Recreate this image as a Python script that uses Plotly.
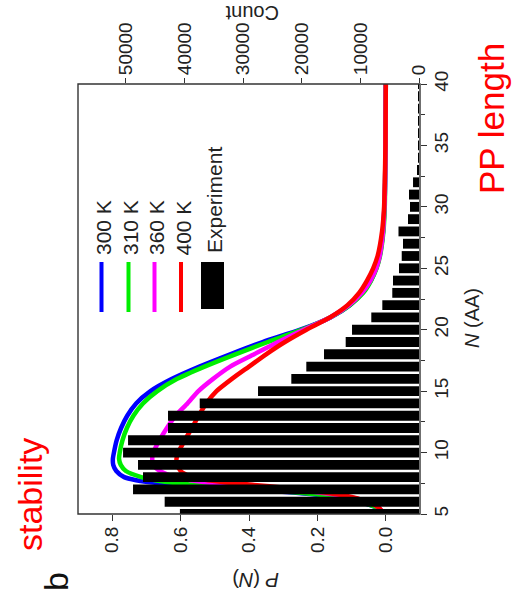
import plotly.graph_objects as go

# Experimental length histogram (counts per polyproline length N)
bar_n = list(range(5, 41))
bar_count = [40800, 43400, 48800, 47100, 47950, 50500, 49650, 42830, 42830, 37420,
             27470, 21790, 19230, 16210, 12510, 11430, 8140, 6260, 4560, 4440,
             3410, 2950, 2730, 3500, 1880, 1540, 1710, 1020, 340, 170,
             120, 80, 60, 40, 30, 20]

# Model length distributions P(N) at four temperatures
curve_n = [5, 5.5, 6, 6.5, 6.75, 7, 7.25, 7.5, 7.75, 8, 8.5, 9, 9.5, 10, 11, 12, 13,
           14, 15, 16, 17, 18, 19, 20, 21, 22, 23, 24, 25, 26, 28, 30, 32, 35, 40]
p_300 = [0.005, 0.025, 0.08, 0.18, 0.27, 0.40, 0.54, 0.66, 0.73, 0.765, 0.788, 0.797,
         0.798, 0.795, 0.787, 0.774, 0.756, 0.73, 0.688, 0.625, 0.545, 0.455, 0.36,
         0.25, 0.162, 0.105, 0.068, 0.044, 0.028, 0.018, 0.008, 0.004, 0.002, 0.001, 0.0]
p_310 = [0.005, 0.025, 0.075, 0.17, 0.26, 0.37, 0.50, 0.61, 0.675, 0.715, 0.76, 0.775,
         0.78, 0.778, 0.77, 0.757, 0.738, 0.71, 0.668, 0.61, 0.53, 0.44, 0.345,
         0.245, 0.163, 0.105, 0.066, 0.043, 0.027, 0.017, 0.007, 0.003, 0.002, 0.001, 0.0]
p_360 = [0.005, 0.02, 0.055, 0.13, 0.195, 0.28, 0.39, 0.50, 0.57, 0.615, 0.66, 0.68,
         0.683, 0.68, 0.662, 0.64, 0.615, 0.58, 0.548, 0.505, 0.455, 0.385, 0.315,
         0.24, 0.163, 0.108, 0.07, 0.045, 0.028, 0.018, 0.008, 0.004, 0.002, 0.001, 0.0]
p_400 = [0.005, 0.02, 0.055, 0.12, 0.18, 0.25, 0.34, 0.44, 0.52, 0.57, 0.60, 0.61,
         0.612, 0.607, 0.588, 0.567, 0.547, 0.525, 0.495, 0.45, 0.40, 0.35, 0.295,
         0.232, 0.163, 0.112, 0.078, 0.055, 0.037, 0.024, 0.011, 0.005, 0.003, 0.001, 0.0]

series_names = ["300 K", "310 K", "360 K", "400 K"]
series_colors = ["#0000ff", "#00ee00", "#ff00ff", "#ff0000"]
series_values = [p_300, p_310, p_360, p_400]

p_ticks = [0.0, 0.2, 0.4, 0.6, 0.8]
count_ticks = [0, 10000, 20000, 30000, 40000, 50000]
n_ticks = [5, 10, 15, 20, 25, 30, 35, 40]

FONT = "Liberation Sans, Arial, sans-serif"
W, H = 513, 605
L, R, T, B = 78, 420, 84, 514


def px(xp):
    return (xp - L) / (R - L)


def py(yp):
    return (B - yp) / (B - T)


fig = go.Figure()

fig.add_trace(go.Bar(
    x=bar_count, y=bar_n, orientation="h", xaxis="x2", yaxis="y",
    marker=dict(color="black", line=dict(width=0)), showlegend=False,
))

for name, color, vals in zip(series_names, series_colors, series_values):
    fig.add_trace(go.Scatter(
        x=vals, y=curve_n, mode="lines", name=name, xaxis="x", yaxis="y",
        line=dict(color=color, width=4.5, shape="spline", smoothing=0.6),
        showlegend=False,
    ))

axis_font = dict(family=FONT, size=19, color="#222")

fig.update_layout(
    width=W, height=H,
    margin=dict(l=L, r=W - R, t=T, b=H - B),
    paper_bgcolor="white", plot_bgcolor="white",
    bargap=0.2,
    xaxis=dict(
        range=[0.9, -0.1], tickvals=p_ticks, ticktext=[f"{v:.1f}" for v in p_ticks],
        tickangle=-90, ticks="outside", ticklen=6, tickwidth=1.3, tickcolor="#333",
        ticklabelstandoff=-2,
        showgrid=False, zeroline=False, showline=False, tickfont=axis_font,
    ),
    xaxis2=dict(
        overlaying="x", side="top", anchor="y", range=[58190, -170],
        tickvals=count_ticks, ticktext=[str(v) for v in count_ticks],
        tickangle=-90, ticks="outside", ticklen=5, tickwidth=1.3, tickcolor="#333",
        ticklabelstandoff=-1,
        showgrid=False, zeroline=False, showline=False, tickfont=axis_font,
    ),
    yaxis=dict(
        side="right", range=[5, 40], tickvals=n_ticks, ticktext=[str(v) for v in n_ticks],
        tickangle=-90, ticks="outside", ticklen=6, tickwidth=1.3, tickcolor="#333",
        ticklabelstandoff=-2,
        minor=dict(dtick=2.5, tick0=5, ticks="outside", ticklen=4, tickwidth=1.2, tickcolor="#333"),
        showgrid=False, zeroline=False, showline=False, tickfont=axis_font,
    ),
)

# Plot frame
fig.add_shape(type="rect", xref="paper", yref="paper", x0=0, x1=1, y0=0, y1=1,
              line=dict(color="#333", width=1.4), layer="above")

# Legend: vertical line keys and a filled key for the histogram
legend_x = [101.5, 128.5, 154.5, 181]
for xk, color in zip(legend_x, series_colors):
    fig.add_shape(type="line", xref="paper", yref="paper",
                  x0=px(xk), x1=px(xk), y0=py(262), y1=py(312),
                  line=dict(color=color, width=4))
fig.add_shape(type="rect", xref="paper", yref="paper",
              x0=px(201), x1=px(224), y0=py(309), y1=py(262),
              line=dict(width=0), fillcolor="black")

annotations = []


def label(text, xc, yc, angle, size, color="#222"):
    annotations.append(dict(
        text=text, x=px(xc), y=py(yc), xref="paper", yref="paper",
        xanchor="center", yanchor="middle", textangle=angle, showarrow=False,
        font=dict(family=FONT, size=size, color=color),
    ))


for xk, name in zip(legend_x, series_names):
    label(name, xk + 1.5, 228, -90, 21)
label("Experiment", 214, 200, -90, 21)

label("Count", 252, 13, 180, 20)
label("<i>P</i> (<i>N</i>)", 256, 580, 180, 20)
label("<i>N</i> (AA)", 472, 318, -90, 20)
label("PP length", 491, 118, -90, 35, "#ff0000")
label("stability", 30, 495, -90, 34, "#ff0000")
label("b", 56, 582, -90, 34, "#111")

fig.update_layout(annotations=annotations)

fig.write_html("out.html")
